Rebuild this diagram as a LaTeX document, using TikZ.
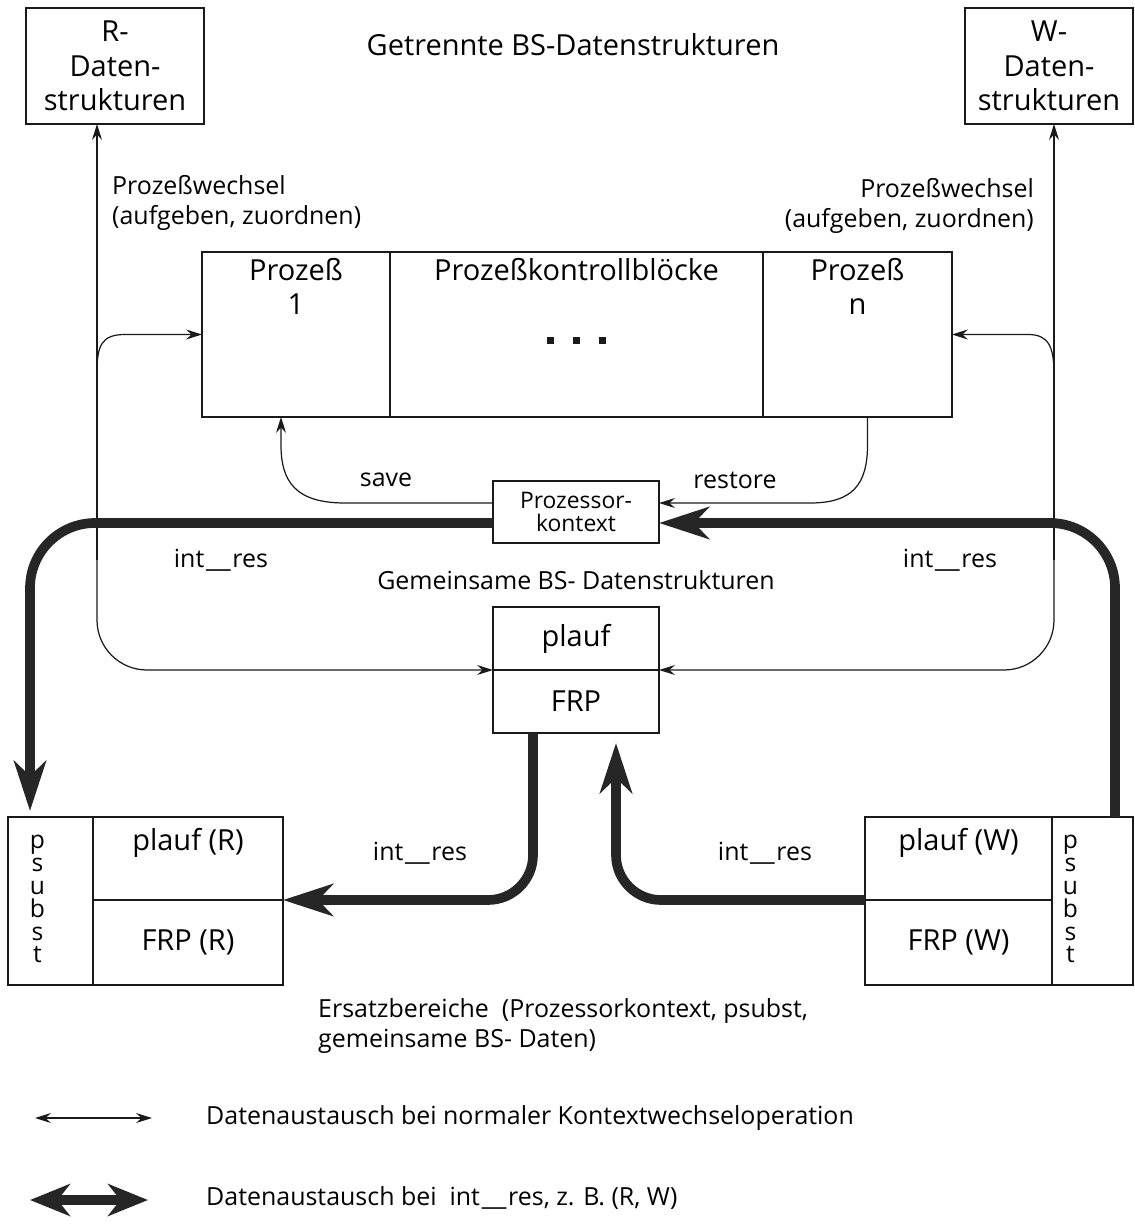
\documentclass[tikz,border=0pt]{standalone}
\usepackage{fontspec}
\setmainfont{Open Sans}
\usetikzlibrary{arrows.meta,positioning,calc}
\definecolor{Ink}{HTML}{1A1A1A}
\definecolor{Halftone}{HTML}{262626}
\newcommand\bigsz{\fontsize{16.5}{19.5}\selectfont}
\newcommand\midsz{\fontsize{14.2}{17}\selectfont}
\newcommand\smallsz{\fontsize{13}{13.2}\selectfont}
\newcommand\colsz{\fontsize{14}{13}\selectfont}
\newcommand\usc{\kern1pt\scalebox{2.2}[1]{\_}\kern1pt}
\tikzset{
  box/.style={draw=Ink,line width=0.9pt,align=center,inner sep=0pt,outer sep=0pt,font=\bigsz},
  cell/.style={draw=Ink,line width=0.9pt,inner sep=0pt,outer sep=0pt},
  bigtext/.style={font=\bigsz,align=center},
  note/.style={font=\midsz,align=center},
  flow/.style={-{Stealth[length=3.2mm,width=2mm,inset=1.1mm]},line width=0.7pt,draw=Ink},
  bothflow/.style={{Stealth[length=3.2mm,width=2mm,inset=1.1mm]}-{Stealth[length=3.2mm,width=2mm,inset=1.1mm]},line width=0.7pt,draw=Ink},
  thickflow/.style={-{Stealth[length=10mm,width=6.4mm,inset=3mm]},line width=5.5pt,draw=Halftone},
  boththick/.style={{Stealth[length=8mm,width=6.4mm,inset=2.5mm]}-{Stealth[length=8mm,width=6.4mm,inset=2.5mm]},line width=5.5pt,draw=Halftone},
  dot/.style={fill=Ink,minimum size=1.5mm,inner sep=0pt}
}

\begin{document}
\begin{tikzpicture}[x=0.02cm,y=-0.02cm]
  \useasboundingbox (0,0) rectangle (1135,1230);

  % separate data structures
  \node[bigtext] (title) at (573,45) {Getrennte BS-Datenstrukturen};
  \node[box,minimum width=3.56cm,minimum height=2.32cm] (rdat) at (115,66) {R-\\Daten-\\strukturen};
  \node[box,minimum width=3.36cm,minimum height=2.32cm] (wdat) at (1049,66) {W-\\Daten-\\strukturen};

  % process control blocks
  \node[cell,minimum width=3.76cm,minimum height=3.3cm] (pcb1) at (296,334.5) {};
  \node[cell,minimum width=7.46cm,minimum height=3.3cm,right=0pt of pcb1] (pcbmid) {};
  \node[cell,minimum width=3.78cm,minimum height=3.3cm,right=0pt of pcbmid] (pcbn) {};
  \node[bigtext,anchor=north] (p1txt) at (pcb1.north) {Prozeß\\1};
  \node[bigtext,anchor=north] (pmidtxt) at (pcbmid.north) {Prozeßkontrollblöcke};
  \node[bigtext,anchor=north] (pntxt) at (pcbn.north) {Prozeß\\n};
  \foreach \dx [count=\i] in {-26,0,26}
    \node[dot] (dot\i) at ($(pcbmid.center)+(\dx,6)$) {};

  \node[box,font=\smallsz,minimum width=3.32cm,minimum height=1.24cm] (kontext) at (576,512) {Prozessor-\\kontext};

  % common data structures
  \node[note] (common) at (576,580) {Gemeinsame BS- Datenstrukturen};
  \node[box,minimum width=3.32cm,minimum height=1.26cm] (plauf) at (576,638.5) {plauf};
  \node[box,minimum width=3.32cm,minimum height=1.26cm,below=0pt of plauf] (frp) {FRP};

  % replacement areas R
  \node[cell,minimum width=1.7cm,minimum height=3.36cm] (psubstR) at (50.5,901) {};
  \node[cell,minimum width=3.8cm,minimum height=1.66cm,anchor=north west] (plaufR) at (psubstR.north east) {};
  \node[box,minimum width=3.8cm,minimum height=1.7cm,anchor=north] (frpR) at (plaufR.south) {FRP (R)};
  \node[bigtext,anchor=north] (plaufRtxt) at ($(plaufR.north)+(0,5)$) {plauf (R)};
  \node[note,font=\colsz,anchor=north] (psRtxt) at ($(psubstR.north)+(-13,12)$) {p\\s\\u\\b\\s\\t};

  % replacement areas W
  \node[cell,minimum width=1.62cm,minimum height=3.36cm] (psubstW) at (1092.5,901) {};
  \node[cell,minimum width=3.74cm,minimum height=1.66cm,anchor=north east] (plaufW) at (psubstW.north west) {};
  \node[box,minimum width=3.74cm,minimum height=1.7cm,anchor=north] (frpW) at (plaufW.south) {FRP (W)};
  \node[bigtext,anchor=north] (plaufWtxt) at ($(plaufW.north)+(0,5)$) {plauf (W)};
  \node[note,font=\colsz,anchor=north] (psWtxt) at ($(psubstW.north)+(-22,12)$) {p\\s\\u\\b\\s\\t};

  % normal context switch
  \coordinate (ltrunk) at (97,560);
  \coordinate (lbranch) at (97,372);
  \coordinate (rtrunk) at (1054,560);
  \coordinate (rbranch) at (1054,375);
  \draw[flow] (ltrunk) -- (ltrunk |- rdat.south);
  \draw[flow,rounded corners=1cm] (ltrunk) |- (plauf.south west);
  \draw[flow] (lbranch) .. controls (97,345) and (102,334.5) .. (125,334.5) -- (pcb1.west);
  \draw[flow] (rtrunk) -- (rtrunk |- wdat.south);
  \draw[flow,rounded corners=1cm] (rtrunk) |- (plauf.south east);
  \draw[flow] (rbranch) .. controls (1054,347) and (1049,334.5) .. (1028,334.5) -- (pcbn.east);
  \node[note,align=left,anchor=west] (wechselL) at (106,203) {Prozeßwechsel\\(aufgeben, zuordnen)};
  \node[note,align=right,anchor=east] (wechselR) at (1040,206) {Prozeßwechsel\\(aufgeben, zuordnen)};

  % save / restore
  \draw[flow] ($(kontext.west)+(0,-9)$) -- (345,503) .. controls (296,503) and (281,482) .. (281,445) -- ($(pcb1.south)+(-15,0)$);
  \draw[flow] ($(pcbn.south)+(10,0)$) -- (867.5,445) .. controls (867.5,485) and (852,503) .. (810,503) -- ($(kontext.east)+(0,-9)$);
  \node[note] (save) at (386,480) {save};
  \node[note] (restore) at (735,480) {restore};

  % int_res exchange
  \draw[thickflow,rounded corners=1.3cm] ($(kontext.west)+(0,11)$) -| ($(psubstR.north west)+(22,-6)$);
  \draw[thickflow,rounded corners=1.3cm] ($(psubstW.north west)+(63,0)$) |- ($(kontext.east)+(0,11)$);
  \draw[thickflow,rounded corners=0.9cm] ($(frp.south)+(-43,0)$) |- (plaufR.south east);
  \draw[thickflow,rounded corners=0.9cm] (plaufW.south west) -| ($(frp.south)+(40,10)$);
  \node[note] (intres1) at (221,560) {int\usc res};
  \node[note] (intres2) at (950,560) {int\usc res};
  \node[note] (intres3) at (420,853) {int\usc res};
  \node[note] (intres4) at (765,853) {int\usc res};

  \node[note,align=left,anchor=west] (ersatz) at (312,1026) {Ersatzbereiche\ \ (Prozessorkontext, psubst,\\gemeinsame BS- Daten)};

  % legend
  \coordinate (leg1a) at (35,1118);
  \coordinate (leg1b) at (152,1118);
  \coordinate (leg2a) at (30,1200);
  \coordinate (leg2b) at (148,1200);
  \draw[bothflow] (leg1a) -- (leg1b);
  \draw[boththick] (leg2a) -- (leg2b);
  \node[note,anchor=west] (leg1txt) at (200,1118) {Datenaustausch bei normaler Kontextwechseloperation};
  \node[note,anchor=west] (leg2txt) at (200,1198) {Datenaustausch bei\ \ int\usc res, z. B. (R, W)};
\end{tikzpicture}
\end{document}
